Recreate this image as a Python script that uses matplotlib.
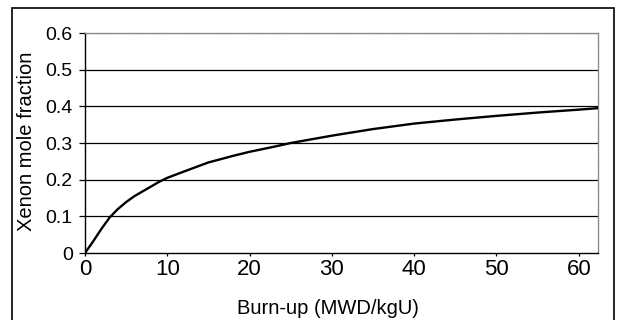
import matplotlib
matplotlib.use("Agg")
import matplotlib.pyplot as plt
from matplotlib.patches import Rectangle

burnup = [0, 1, 2, 3, 4, 5, 6, 7, 8, 9, 10, 12, 15, 18, 20, 23, 25, 28, 30, 35, 40, 45, 50, 55, 60, 62.3]
xenon = [0, 0.032, 0.066, 0.097, 0.12, 0.139, 0.155, 0.168, 0.181, 0.194, 0.205, 0.222, 0.247, 0.265, 0.276, 0.29, 0.3, 0.312, 0.32, 0.338, 0.353, 0.364, 0.374, 0.383, 0.391, 0.395]
xticks = [0, 10, 20, 30, 40, 50, 60]
yticks = [0, 0.1, 0.2, 0.3, 0.4, 0.5, 0.6]
ytick_labels = ["0", "0.1", "0.2", "0.3", "0.4", "0.5", "0.6"]

plt.rcParams['font.family'] = ['Liberation Sans', 'DejaVu Sans']
W, H = 617, 320
fig = plt.figure(figsize=(W/100, H/100), dpi=100)
ax = fig.add_axes([85/W, 1-253/H, (597.7-85)/W, (253-33)/H])

for y in yticks[1:-1]:
    ax.axhline(y, color='black', lw=0.9, zorder=1)
ax.axhline(0.6, color='#888888', lw=0.9, ls=(0, (1, 0.5)), zorder=1)

ax.plot(burnup, xenon, color='black', lw=1.7, zorder=3, solid_joinstyle='round')

ax.set_xlim(0, 62.3)
ax.set_ylim(0, 0.6)
ax.set_xticks(xticks)
ax.set_yticks(yticks)
ax.set_yticklabels(ytick_labels)
ax.tick_params(axis='x', labelsize=16, direction='out', length=2.2, width=0.9, color='black', pad=2)
ax.tick_params(axis='y', labelsize=14, direction='out', length=4.3, width=0.9, color='black', pad=4.5)
for s in ['left', 'bottom']:
    ax.spines[s].set_color('black')
    ax.spines[s].set_linewidth(1.0)
for s in ['top', 'right']:
    ax.spines[s].set_color('#888888')
    ax.spines[s].set_linewidth(0.9)
    ax.spines[s].set_linestyle((0, (1, 0.5)))

fig.text(327.5/W, 1-314.5/H, 'Burn-up (MWD/kgU)', fontsize=14.5, ha='center', va='baseline')
fig.text(32/W, 1-141.5/H, 'Xenon mole fraction', fontsize=14.5, ha='center', va='baseline',
         rotation=90, rotation_mode='anchor')

fig.patches.append(Rectangle((11.5/W, -0.05), (613.5-11.5)/W, 1.05-7.5/H,
                             transform=fig.transFigure, fill=False, edgecolor='black',
                             lw=1.2, clip_on=False))

fig.savefig('out.png', dpi=100)
